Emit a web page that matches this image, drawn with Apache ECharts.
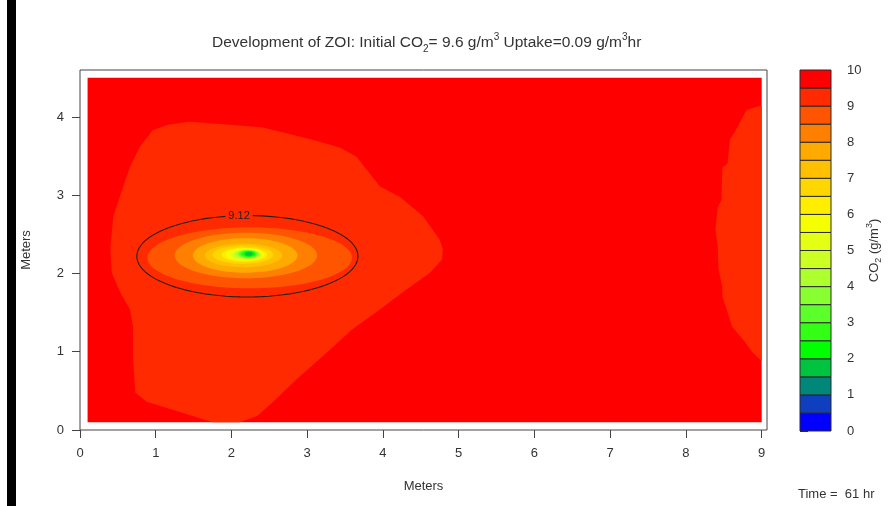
<!DOCTYPE html>
<html><head><meta charset="utf-8">
<script src="https://cdn.jsdelivr.net/npm/echarts@6/dist/echarts.min.js"></script>
<style>html,body{margin:0;padding:0;background:#fff}#c{width:892px;height:506px}</style>
</head><body><div id="c"></div>
<script>
// ---- data ----
const levelBreaks = [0,0.5,1,1.5,2,2.5,3,3.5,4,4.5,5,5.5,6,6.5,7,7.5,8,8.5,9,9.5,10];
const levelColors = ['#0000FF','#0D3FBF','#00877A','#00C43F','#00FF00','#33FF14','#5CFF2A','#88FF30','#AEFF2E','#CCFF22',
                     '#E2FF14','#F5FF00','#FFEE00','#FFD700','#FFC000','#FFAA00','#FF8000','#FF5500','#FF2A00','#FF0000'];
const domainX = [0.1, 9.0];
const domainY = [0.1, 4.5];
const backgroundLevel = 9.5;
// level 9.0 regions (outlines, metres)
const blobLevel = 9.0;
const blobLeftX = [1.16,1.45,2.40,3.07,3.43,3.65,3.96,4.22,4.53,4.75,4.79,4.78,4.62,4.26,3.96,3.60,3.26,2.86,2.55,2.34,2.11,1.75,1.32,0.88,0.73,0.70,0.70,0.66,0.53,0.42,0.40,0.44,0.57,0.66,0.79,0.96];
const blobLeftY = [3.90,3.94,3.87,3.71,3.61,3.49,3.11,2.98,2.73,2.43,2.31,2.18,2.01,1.76,1.54,1.29,0.99,0.65,0.36,0.18,0.10,0.10,0.23,0.36,0.48,0.90,1.32,1.54,1.76,2.01,2.31,2.73,3.11,3.36,3.62,3.83];
const blobRightX = [9.00,9.00,8.80,8.75,8.68,8.58,8.55,8.48,8.47,8.42,8.39,8.42,8.43,8.48,8.48,8.55,8.61,8.75,8.88,9.00];
const blobRightY = [0.88,4.15,4.09,4.00,3.87,3.71,3.41,3.35,2.94,2.85,2.56,2.34,2.05,1.83,1.71,1.50,1.32,1.16,0.99,0.88];
// nested elliptical bands around the uptake point
const bandLevels = [8.5, 8.0, 7.5, 7.0, 6.5, 6.0, 5.5, 5.0, 4.5, 4.0, 3.5, 3.0, 2.5, 2.0, 1.5];
const bandCx = [2.24,2.19,2.18,2.16,2.15,2.17,2.18,2.19,2.20,2.21,2.22,2.22,2.22,2.23,2.23];
const bandCy = [2.20,2.23,2.23,2.23,2.24,2.24,2.24,2.24,2.24,2.25,2.25,2.25,2.25,2.25,2.25];
const bandRx = [1.35,0.94,0.69,0.51,0.40,0.30,0.25,0.21,0.18,0.16,0.14,0.12,0.10,0.08,0.05];
const bandRy = [0.39,0.29,0.22,0.15,0.115,0.09,0.078,0.068,0.06,0.055,0.05,0.045,0.04,0.035,0.025];
// contour line 9.12
const contourLabel = '9.12';
const contourCx = 2.21, contourCy = 2.22, contourRx = 1.46, contourRy = 0.52;
const contourLabelX = 2.10, contourLabelY = 2.735;
// ticks
const xTicks = [0,1,2,3,4,5,6,7,8,9];
const yTicks = [0,1,2,3,4];
const barTicks = [0,1,2,3,4,5,6,7,8,9,10];
const timeText = 'Time =  61 hr';

// ---- helpers ----
function colorOf(level){ return levelColors[levelBreaks.indexOf(level)]; }
const FONT = 'Liberation Sans, Arial, sans-serif';
const TXT = '#333';
function ellipsePts(api, cx, cy, rx, ry){
  const pts = [];
  for (let k = 0; k < 96; k++){
    const a = k / 96 * Math.PI * 2;
    pts.push(api.coord([cx + rx*Math.cos(a), cy + ry*Math.sin(a)]));
  }
  return pts;
}
const chart = echarts.init(document.getElementById('c'), null, {renderer:'canvas'});
const option = {
  animation: false,
  backgroundColor: '#fff',
  title: {
    text: '{n|Development of ZOI: Initial CO}{sb|2}{n|= 9.6 g/m}{sp|3}{n| Uptake=0.09 g/m}{sp|3}{n|hr}',
    left: 207, top: 27,
    textStyle: {
      fontFamily: FONT, fontWeight: 'normal',
      rich: {
        n: {fontSize: 15.5, fontWeight:'normal', color: TXT, fontFamily: FONT, lineHeight: 22, verticalAlign: 'middle'},
        sb:{fontSize: 10, fontWeight:'normal', color: TXT, fontFamily: FONT, lineHeight: 22, verticalAlign: 'bottom'},
        sp:{fontSize: 10, fontWeight:'normal', color: TXT, fontFamily: FONT, lineHeight: 22, verticalAlign: 'top'}
      }
    }
  },
  grid: [
    {left: 80, top: 70, width: 687, height: 360, show: true, borderColor: '#444', borderWidth: 1, backgroundColor: 'transparent'},
    {left: 800, top: 70, width: 31, height: 361, show: false}
  ],
  xAxis: [
    {type:'value', gridIndex:0, min:0, max:9.07, interval:1,
     name:'Meters', nameLocation:'middle', nameGap: 50,
     nameTextStyle:{fontFamily:FONT, fontSize:13, color:TXT},
     axisLine:{show:false}, splitLine:{show:false},
     axisTick:{show:true, length:8, lineStyle:{color:'#444'}, customValues: xTicks},
     axisLabel:{fontFamily:FONT, fontSize:13, color:TXT, margin:17, customValues: xTicks}},
    {type:'value', gridIndex:1, min:0, max:1, show:false}
  ],
  yAxis: [
    {type:'value', gridIndex:0, min:0, max:4.6, interval:1,
     name:'Meters', nameLocation:'middle', nameGap: 47, nameRotate: 90,
     nameTextStyle:{fontFamily:FONT, fontSize:13, color:TXT},
     axisLine:{show:false}, splitLine:{show:false},
     axisTick:{show:true, length:8, lineStyle:{color:'#444'}, customValues: yTicks},
     axisLabel:{fontFamily:FONT, fontSize:13, color:TXT, margin:16, customValues: yTicks}},
    {type:'value', gridIndex:1, min:0, max:10, interval:1, position:'right',
     name:'{a|CO}{s|2}{a| (g/m}{p|3}{a|)}', nameLocation:'middle', nameGap: 30, nameRotate: 90,
     nameTextStyle:{fontFamily:FONT, rich:{
        a:{fontSize:13, color:TXT, fontFamily:FONT, lineHeight:18, verticalAlign:'middle'},
        s:{fontSize:9, color:TXT, fontFamily:FONT, lineHeight:18, verticalAlign:'bottom'},
        p:{fontSize:9, color:TXT, fontFamily:FONT, lineHeight:18, verticalAlign:'top'}}},
     axisLine:{show:false}, splitLine:{show:false},
     axisTick:{show:true, length:8, lineStyle:{color:'#333'}, customValues: barTicks},
     axisLabel:{fontFamily:FONT, fontSize:13, color:TXT, margin:16, customValues: barTicks}}
  ],
  graphic: [
    {type:'rect', left:7, top:0, shape:{width:9, height:506}, style:{fill:'#000'}},
    {type:'text', left:798, top:488, style:{text: timeText, font:'13px '+FONT, fill:TXT}}
  ],
  series: [
    { // background level
      type:'custom', xAxisIndex:0, yAxisIndex:0, clip:true,
      data:[[domainX[0], domainY[0], domainX[1], domainY[1]]],
      renderItem: function(params, api){
        const p0 = api.coord([api.value(0), api.value(3)]);
        const p1 = api.coord([api.value(2), api.value(1)]);
        return {type:'rect', shape:{x:p0[0], y:p0[1], width:p1[0]-p0[0], height:p1[1]-p0[1]},
                style:{fill: colorOf(backgroundLevel)}};
      }
    },
    { // level 9 regions
      type:'custom', xAxisIndex:0, yAxisIndex:0, clip:true,
      data:[0,1],
      renderItem: function(params, api){
        const xs = params.dataIndex === 0 ? blobLeftX : blobRightX;
        const ys = params.dataIndex === 0 ? blobLeftY : blobRightY;
        const pts = xs.map((x,i) => api.coord([x, ys[i]]));
        return {type:'polygon', shape:{points: pts}, style:{fill: colorOf(blobLevel)}};
      }
    },
    { // elliptical bands
      type:'custom', xAxisIndex:0, yAxisIndex:0, clip:true,
      data: bandLevels.map((l,i)=>i),
      renderItem: function(params, api){
        const i = params.dataIndex;
        return {type:'polygon', shape:{points: ellipsePts(api, bandCx[i], bandCy[i], bandRx[i], bandRy[i])},
                style:{fill: colorOf(bandLevels[i])}};
      }
    },
    { // contour line 9.12
      type:'custom', xAxisIndex:0, yAxisIndex:0, clip:true,
      data:[0],
      renderItem: function(params, api){
        const pts = ellipsePts(api, contourCx, contourCy, contourRx, contourRy);
        pts.push(pts[0]);
        const lp = api.coord([contourLabelX, contourLabelY]);
        return {type:'group', children:[
          {type:'polyline', shape:{points: pts}, style:{stroke:'#222', lineWidth:1.1, fill:null}},
          {type:'text', x: lp[0], y: lp[1], style:{text: contourLabel, font:'11px '+FONT, fill:'#222',
             align:'center', verticalAlign:'middle', backgroundColor: colorOf(blobLevel), padding:[0,3,0,3]}}
        ]};
      }
    },
    { // colour bar
      type:'custom', xAxisIndex:1, yAxisIndex:1, clip:false,
      data: levelColors.map((c,i)=>i),
      renderItem: function(params, api){
        const i = params.dataIndex;
        const p0 = api.coord([0, levelBreaks[i+1]]);
        const p1 = api.coord([1, levelBreaks[i]]);
        return {type:'rect', shape:{x:p0[0], y:p0[1], width:p1[0]-p0[0], height:p1[1]-p0[1]},
                style:{fill: levelColors[i], stroke:'#2a2a2a', lineWidth:1}};
      }
    }
  ]
};
chart.setOption(option);
</script></body></html>
